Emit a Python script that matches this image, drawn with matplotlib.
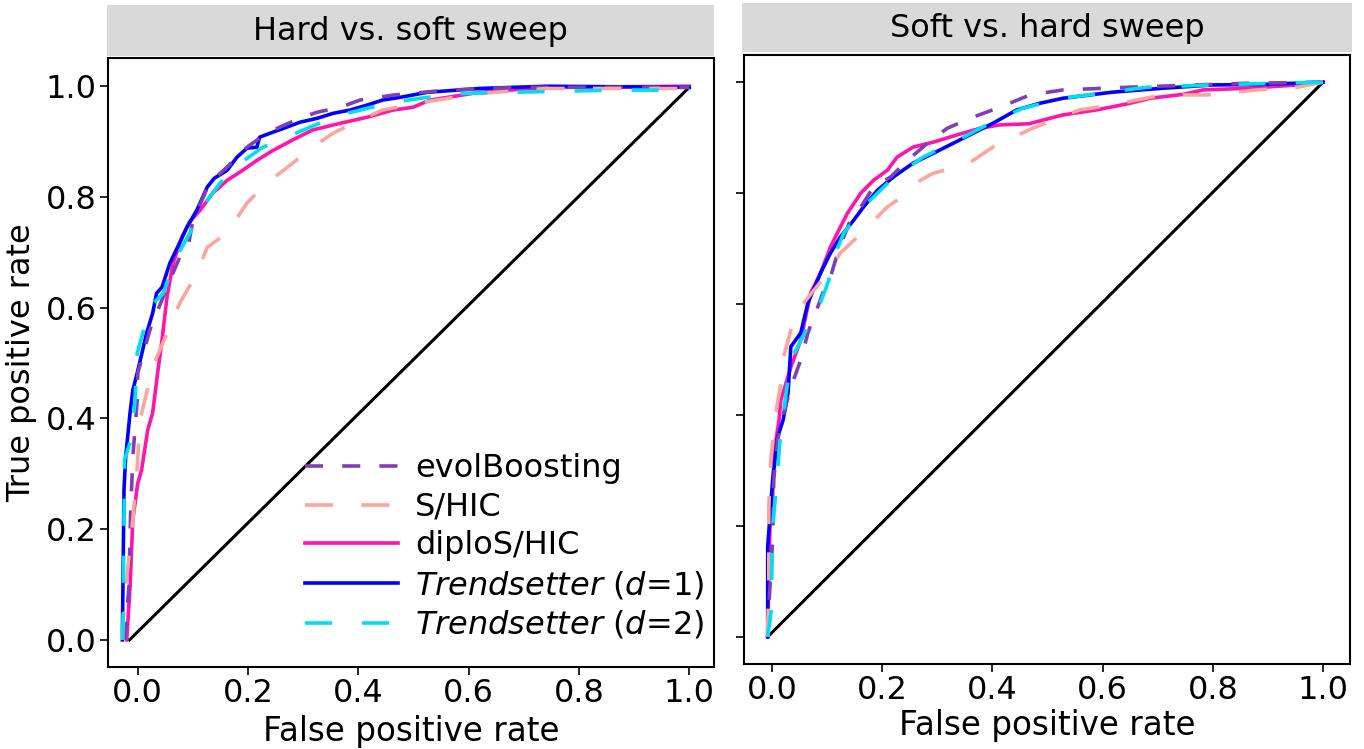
import numpy as np
import matplotlib
matplotlib.use("Agg")
import matplotlib.pyplot as plt
from matplotlib.ticker import FormatStrFormatter

plt.rcParams['font.family'] = ['DejaVu Sans']

# ROC curves, hard vs. soft sweep (FPR, TPR)
hs_evol_fpr = [-0.024, -0.016, -0.013, -0.009, -0.001, 0.000, 0.022, 0.053, 0.076, 0.091, 0.100, 0.130, 0.162, 0.198, 0.234, 0.257, 0.294, 0.325, 0.367, 0.403, 0.463, 0.561, 0.693, 1.0]
hs_evol_tpr = [0.0, 0.096, 0.229, 0.330, 0.433, 0.482, 0.560, 0.637, 0.691, 0.709, 0.758, 0.825, 0.854, 0.890, 0.915, 0.926, 0.942, 0.953, 0.962, 0.975, 0.984, 0.993, 0.998, 0.998]
hs_shic_fpr = [-0.029, -0.018, -0.009, -0.001, 0.004, 0.016, 0.027, 0.053, 0.076, 0.107, 0.126, 0.162, 0.198, 0.234, 0.281, 0.317, 0.354, 0.403, 0.444, 0.517, 0.620, 0.742, 1.0]
hs_shic_tpr = [0.0, 0.132, 0.217, 0.312, 0.397, 0.446, 0.493, 0.554, 0.608, 0.662, 0.709, 0.735, 0.789, 0.825, 0.861, 0.890, 0.915, 0.939, 0.957, 0.971, 0.987, 0.996, 0.996]
hs_diplo_fpr = [-0.020, -0.014, -0.009, 0.000, 0.007, 0.018, 0.027, 0.036, 0.044, 0.053, 0.064, 0.080, 0.094, 0.113, 0.136, 0.162, 0.190, 0.216, 0.245, 0.281, 0.317, 0.367, 0.416, 0.463, 0.499, 0.530, 0.620, 0.742, 1.0]
hs_diplo_tpr = [0.0, 0.096, 0.217, 0.283, 0.307, 0.379, 0.410, 0.482, 0.542, 0.619, 0.680, 0.727, 0.755, 0.776, 0.807, 0.830, 0.848, 0.866, 0.884, 0.903, 0.921, 0.933, 0.944, 0.957, 0.962, 0.975, 0.989, 0.998, 1.0]
hs_ts1_fpr = [-0.028, -0.025, -0.022, -0.014, -0.009, -0.001, 0.016, 0.027, 0.034, 0.044, 0.058, 0.072, 0.089, 0.107, 0.126, 0.139, 0.162, 0.180, 0.198, 0.216, 0.221, 0.245, 0.270, 0.294, 0.325, 0.354, 0.385, 0.416, 0.444, 0.476, 0.525, 0.620, 0.742, 1.0]
hs_ts1_tpr = [0.0, 0.271, 0.330, 0.410, 0.451, 0.482, 0.554, 0.590, 0.626, 0.637, 0.680, 0.709, 0.745, 0.776, 0.818, 0.834, 0.848, 0.872, 0.888, 0.890, 0.908, 0.917, 0.926, 0.935, 0.942, 0.951, 0.957, 0.966, 0.975, 0.980, 0.989, 0.996, 1.0, 0.998]
hs_ts2_fpr = [-0.027, -0.024, -0.011, -0.005, -0.001, 0.022, 0.046, 0.070, 0.100, 0.126, 0.149, 0.186, 0.227, 0.270, 0.312, 0.367, 0.416, 0.463, 0.525, 0.590, 0.680, 0.862, 1.0]
hs_ts2_tpr = [0.0, 0.325, 0.366, 0.433, 0.518, 0.601, 0.626, 0.691, 0.745, 0.794, 0.825, 0.861, 0.890, 0.908, 0.926, 0.948, 0.960, 0.971, 0.980, 0.987, 0.989, 0.993, 0.993]

# ROC curves, soft vs. hard sweep
sh_evol_fpr = [-0.008, -0.006, 0.001, 0.003, 0.010, 0.021, 0.034, 0.052, 0.065, 0.083, 0.094, 0.106, 0.119, 0.130, 0.142, 0.161, 0.184, 0.215, 0.246, 0.282, 0.318, 0.365, 0.414, 0.468, 0.528, 0.650, 0.862, 1.0]
sh_evol_tpr = [0.0, 0.054, 0.175, 0.283, 0.355, 0.404, 0.450, 0.499, 0.548, 0.595, 0.625, 0.649, 0.692, 0.721, 0.751, 0.775, 0.811, 0.829, 0.859, 0.890, 0.917, 0.937, 0.955, 0.977, 0.986, 0.991, 0.998, 1.0]
sh_shic_fpr = [-0.008, -0.008, -0.006, -0.006, -0.002, 0.007, 0.016, 0.021, 0.034, 0.052, 0.076, 0.101, 0.124, 0.155, 0.173, 0.209, 0.246, 0.269, 0.293, 0.336, 0.365, 0.401, 0.426, 0.473, 0.558, 0.618, 0.708, 0.789, 0.880, 0.954, 1.0]
sh_shic_tpr = [0.0, 0.013, 0.103, 0.234, 0.324, 0.404, 0.458, 0.505, 0.553, 0.595, 0.625, 0.656, 0.692, 0.721, 0.739, 0.775, 0.800, 0.823, 0.836, 0.847, 0.859, 0.883, 0.895, 0.917, 0.950, 0.959, 0.977, 0.977, 0.986, 0.991, 1.0]
sh_diplo_fpr = [-0.008, -0.006, -0.004, 0.001, 0.003, 0.007, 0.012, 0.016, 0.034, 0.052, 0.070, 0.088, 0.106, 0.124, 0.137, 0.161, 0.184, 0.209, 0.227, 0.256, 0.293, 0.336, 0.378, 0.414, 0.466, 0.528, 0.589, 0.650, 0.686, 0.746, 0.782, 0.862, 0.954, 1.0]
sh_diplo_tpr = [0.0, 0.103, 0.193, 0.252, 0.314, 0.355, 0.386, 0.427, 0.486, 0.535, 0.620, 0.656, 0.703, 0.739, 0.764, 0.800, 0.823, 0.841, 0.865, 0.883, 0.892, 0.905, 0.917, 0.923, 0.925, 0.941, 0.950, 0.962, 0.971, 0.978, 0.986, 0.989, 0.995, 1.0]
sh_ts1_fpr = [-0.008, -0.008, 0.001, 0.010, 0.020, 0.029, 0.034, 0.052, 0.065, 0.088, 0.106, 0.124, 0.148, 0.166, 0.191, 0.220, 0.256, 0.293, 0.329, 0.365, 0.401, 0.444, 0.486, 0.528, 0.618, 0.708, 0.800, 0.891, 1.0]
sh_ts1_tpr = [0.0, 0.162, 0.283, 0.360, 0.391, 0.440, 0.523, 0.548, 0.602, 0.656, 0.692, 0.721, 0.751, 0.775, 0.805, 0.829, 0.854, 0.872, 0.890, 0.908, 0.926, 0.950, 0.962, 0.971, 0.982, 0.989, 0.995, 0.996, 1.0]
sh_ts2_fpr = [-0.008, -0.002, 0.001, 0.010, 0.016, 0.034, 0.065, 0.083, 0.103, 0.110, 0.130, 0.173, 0.215, 0.274, 0.336, 0.396, 0.455, 0.528, 0.681, 0.832, 1.0]
sh_ts2_tpr = [0.0, 0.043, 0.193, 0.301, 0.373, 0.499, 0.559, 0.589, 0.643, 0.679, 0.728, 0.782, 0.823, 0.865, 0.895, 0.926, 0.953, 0.971, 0.991, 0.996, 1.0]

diag_hs = ([-0.015, 1.0], [0.0, 0.998])
diag_sh = ([-0.008, 1.0], [0.0, 1.0])

labels = ['evolBoosting', 'S/HIC', 'diploS/HIC',
          r'$\it{Trendsetter}$ ($\it{d}$=1)', r'$\it{Trendsetter}$ ($\it{d}$=2)']
colors = ['#7f40b4', '#fba59e', '#ff14ac', '#0000ff', '#00def2']
dashes = [(5, 5.3), (7.8, 7.8), None, None, (7.5, 8.3)]
lw = 2.6
fs = 23

fig = plt.figure(figsize=(13.64, 7.49), dpi=100)
W, H = 1364., 749.

def px_axes(x0, y0, x1, y1):
    return fig.add_axes([x0 / W, 1 - y1 / H, (x1 - x0) / W, (y1 - y0) / H])

ax1 = px_axes(108, 58, 714, 667)
ax2 = px_axes(744, 55, 1350, 664)
strip1 = px_axes(107, 5, 714, 56)
strip2 = px_axes(742, 3, 1352, 52)

panels = [
    (ax1, strip1, 'Hard vs. soft sweep', diag_hs,
     [(hs_evol_fpr, hs_evol_tpr), (hs_shic_fpr, hs_shic_tpr), (hs_diplo_fpr, hs_diplo_tpr),
      (hs_ts1_fpr, hs_ts1_tpr), (hs_ts2_fpr, hs_ts2_tpr)],
     (-0.054, 1.045), (-0.049, 1.051)),
    (ax2, strip2, 'Soft vs. hard sweep', diag_sh,
     [(sh_evol_fpr, sh_evol_tpr), (sh_shic_fpr, sh_shic_tpr), (sh_diplo_fpr, sh_diplo_tpr),
      (sh_ts1_fpr, sh_ts1_tpr), (sh_ts2_fpr, sh_ts2_tpr)],
     (-0.051, 1.049), (-0.049, 1.049)),
]

# solid lines first, dashed drawn over them
order = [2, 3, 0, 1, 4]
for ax, strip, title, diag, curves, xl, yl in panels:
    ax.plot(diag[0], diag[1], color='black', lw=2.2, zorder=1)
    handles = {}
    for k, i in enumerate(order):
        fpr, tpr = curves[i]
        ln, = ax.plot(fpr, tpr, color=colors[i], lw=lw, label=labels[i], zorder=2 + k)
        if dashes[i] is not None:
            ln.set_dashes(dashes[i])
        handles[i] = ln
    ax.set_xlim(*xl)
    ax.set_ylim(*yl)
    ax.set_xticks(np.arange(0, 1.01, 0.2))
    ax.set_yticks(np.arange(0, 1.01, 0.2))
    ax.xaxis.set_major_formatter(FormatStrFormatter('%.1f'))
    ax.yaxis.set_major_formatter(FormatStrFormatter('%.1f'))
    ax.tick_params(direction='out', length=6, width=1.2, labelsize=fs, pad=2)
    for sp in ax.spines.values():
        sp.set_linewidth(1.5)

    strip.set_facecolor('#d9d9d9')
    strip.set_xticks([])
    strip.set_yticks([])
    for sp in strip.spines.values():
        sp.set_visible(False)
    strip.text(0.5, 0.48, title, ha='center', va='center', fontsize=fs,
               transform=strip.transAxes)
    ax.handles = handles

ax2.set_yticklabels([])
ax1.set_xlabel('False positive rate', fontsize=23.5, labelpad=4)
ax2.set_xlabel('False positive rate', fontsize=23.5, labelpad=2)
ax1.set_ylabel('True positive rate', fontsize=23, labelpad=6)

leg = ax1.legend([ax1.handles[i] for i in range(5)], labels, loc='lower left',
                 bbox_to_anchor=(0.325, 0.043), frameon=False, fontsize=fs,
                 handlelength=2.9, handletextpad=0.55, labelspacing=0.24,
                 borderpad=0, borderaxespad=0)

fig.savefig('out.png', dpi=100)
